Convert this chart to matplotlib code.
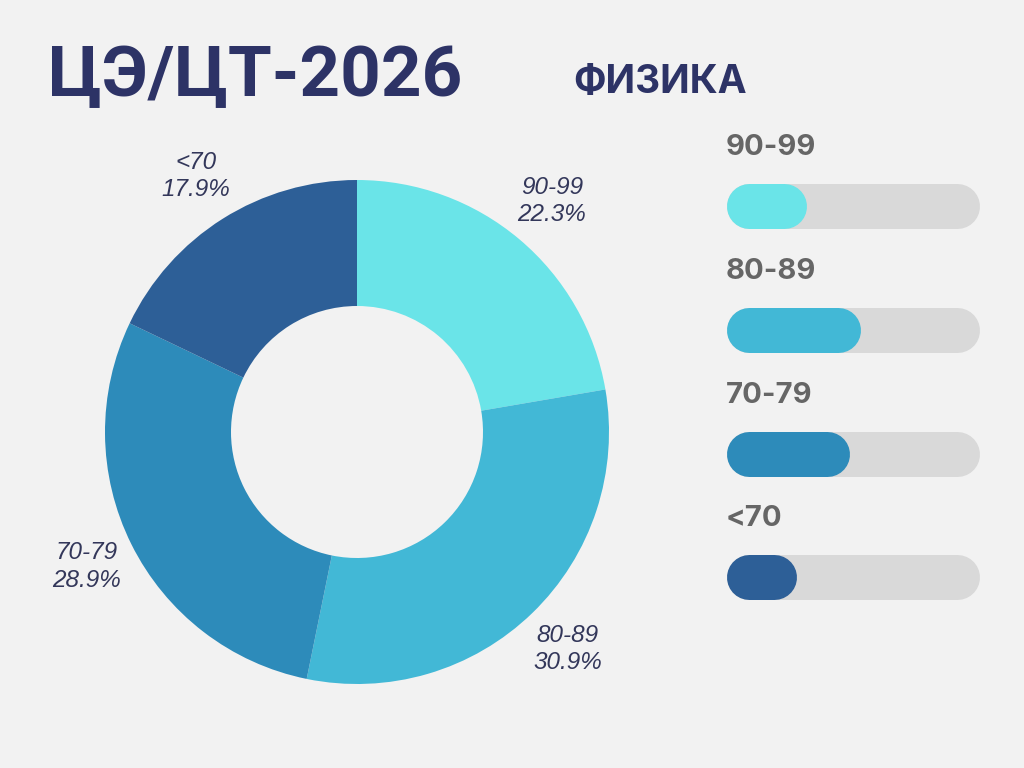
import matplotlib
matplotlib.use("Agg")
import matplotlib.pyplot as plt

# data
labels = ["90-99", "80-89", "70-79", "<70"]
shares = [22.3, 30.9, 28.9, 17.9]
colors = ["#6ae4e8", "#42b8d6", "#2d8bba", "#2d5f97"]
bar_fill = [32, 53, 49, 28]  # fill of each progress bar, % of track

bg = "#f2f2f2"
navy = "#2d3366"

fig = plt.figure(figsize=(10.24, 7.68), dpi=100, facecolor=bg)

# titles
fig.text(48 / 1024, 1 - 96 / 768, "ЦЭ/ЦТ-2026", fontsize=51, fontweight="bold",
         family=["Roboto", "DejaVu Sans"], color=navy, ha="left", va="baseline")
fig.text(573 / 1024, 1 - 93 / 768, "ФИЗИКА", fontsize=28, fontweight="bold",
         family=["Inter", "DejaVu Sans"], color=navy, ha="left", va="baseline")

# donut, axes in pixel units centred on (357, 432)
cx, cy, half = 357, 432, 320
ax = fig.add_axes([(cx - half) / 1024, (768 - cy - half) / 768, 2 * half / 1024, 2 * half / 768])

texts = [f"{l}\n{s}%" for l, s in zip(labels, shares)]
wedges, txt = ax.pie(shares, colors=colors, labels=texts, startangle=90, counterclock=False,
                     radius=252, labeldistance=1.2,
                     wedgeprops=dict(width=126, edgecolor="none"),
                     textprops=dict(fontsize=17.5, style="italic", color="#33375a",
                                    family=["Liberation Sans", "DejaVu Sans"], linespacing=1.25))
for t in txt:
    t.set_ha("center")
    t.set_va("center")
ax.set_xlim(-half, half)
ax.set_ylim(-half, half)
ax.set_aspect("equal")
ax.axis("off")

# progress bars, axes in pixel coords
bx = fig.add_axes([700 / 1024, 0, 324 / 1024, 1])
bx.set_xlim(700, 1024)
bx.set_ylim(768, 0)
bx.axis("off")

x0, x1 = 726, 979
h = 45
lw = h * 72 / 100
centers = [205.5, 329.5, 453.5, 576.5]
for lab, v, c, yc in zip(labels, bar_fill, colors, centers):
    xe = x0 + (x1 - x0) * v / 100
    bx.plot([x0 + h / 2, x1 - h / 2], [yc, yc], color="#d9d9d9", lw=lw, solid_capstyle="round")
    bx.plot([x0 + h / 2, xe - h / 2], [yc, yc], color=c, lw=lw, solid_capstyle="round")
    bx.text(x0, yc - 50.5, lab, fontsize=21, fontweight="bold", color="#666666",
            family=["Inter", "DejaVu Sans"], ha="left", va="baseline")

fig.savefig("out.png", dpi=100, facecolor=bg)
